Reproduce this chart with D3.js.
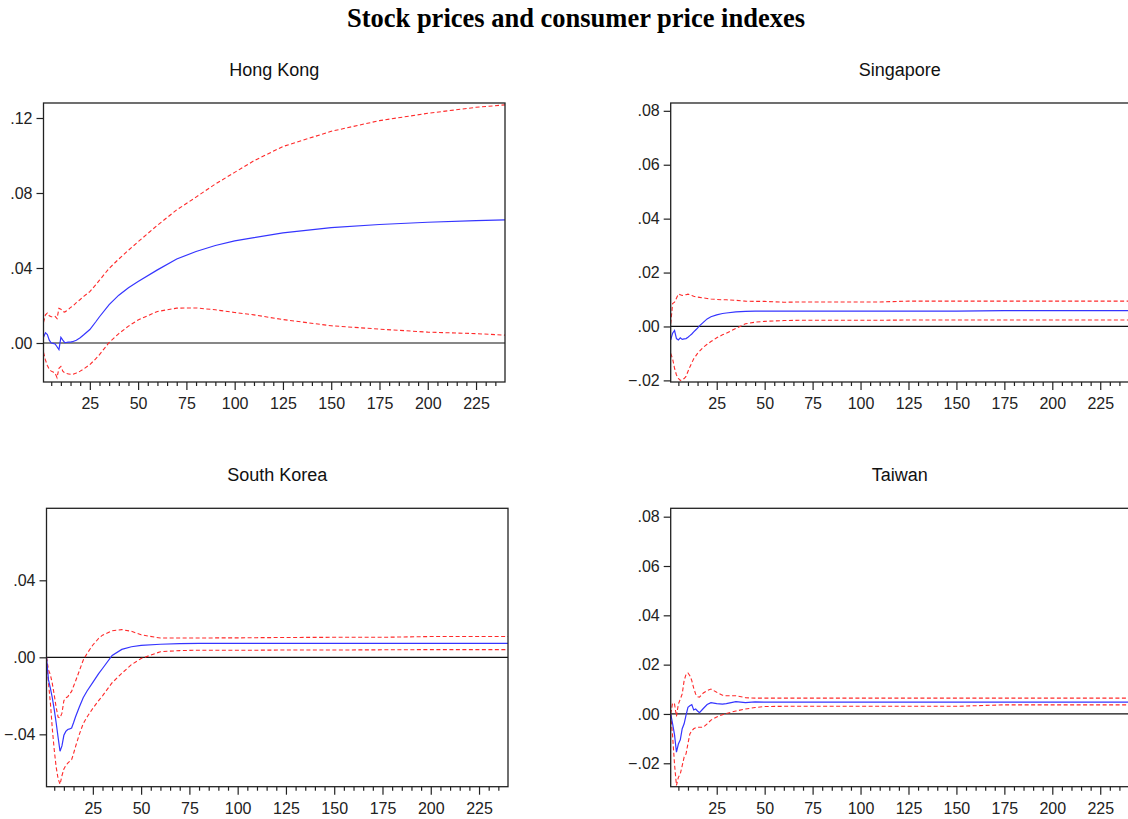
<!DOCTYPE html>
<html>
<head>
<meta charset="utf-8">
<script src="https://cdn.jsdelivr.net/npm/d3@7"></script>
<style>
  body { margin: 0; background: #fff; }
  svg { display: block; }
  .tick text { font-family: "Liberation Sans", Arial, sans-serif; font-size: 16px; fill: #222; }
  .tick line { stroke: #222; stroke-width: 1.2; }
</style>
</head>
<body>
<svg id="chart" width="1128" height="819"></svg>
<script>
const periods = [1,2,3,4,5,6,7,8,9,10,11,12,13,14,15,16,18,20,22,25,28,30,35,40,45,50,60,70,80,90,100,110,125,150,175,200,225,240];

const hongKongResponse = [0.003,0.0055,0.0045,0.0015,0.0,-0.0002,-0.0005,-0.002,-0.0035,0.003,0.0015,0.0002,0.0003,0.0005,0.0005,0.0007,0.0015,0.0028,0.0045,0.0072,0.0112,0.014,0.0205,0.0255,0.0295,0.0328,0.039,0.0448,0.0488,0.052,0.0545,0.0562,0.0587,0.0615,0.0632,0.0644,0.0653,0.0657];
const hongKongUpper = [0.011,0.015,0.016,0.0145,0.014,0.014,0.0142,0.013,0.0185,0.018,0.0168,0.0165,0.0172,0.018,0.019,0.0195,0.0215,0.0232,0.025,0.0274,0.031,0.0335,0.0398,0.0448,0.0495,0.054,0.0628,0.071,0.0778,0.0848,0.091,0.0972,0.1048,0.1129,0.1186,0.1225,0.1257,0.127];
const hongKongLower = [-0.005,-0.009,-0.012,-0.014,-0.015,-0.0155,-0.016,-0.0185,-0.0135,-0.0125,-0.015,-0.016,-0.0163,-0.0165,-0.0167,-0.0168,-0.016,-0.015,-0.0137,-0.0115,-0.0085,-0.0062,0.0003,0.005,0.009,0.0123,0.0168,0.0186,0.0187,0.0177,0.0163,0.015,0.0125,0.0092,0.0074,0.0058,0.005,0.0042];

const singaporeResponse = [-0.005,-0.0025,-0.0015,-0.0045,-0.005,-0.0042,-0.0048,-0.0046,-0.0045,-0.004,-0.0034,-0.0028,-0.002,-0.0013,-0.0006,0.0002,0.0015,0.0028,0.0036,0.0043,0.0048,0.005,0.0054,0.0056,0.0057,0.0057,0.0057,0.0057,0.0057,0.0057,0.0057,0.0057,0.0057,0.0057,0.0059,0.0059,0.0059,0.0059];
const singaporeUpper = [0.001,0.0085,0.009,0.0105,0.012,0.0118,0.0115,0.0117,0.0118,0.012,0.0118,0.0115,0.0112,0.011,0.0109,0.0108,0.0106,0.0104,0.0102,0.01,0.0099,0.0099,0.0097,0.0094,0.0093,0.0093,0.009,0.0091,0.0091,0.0091,0.0091,0.0091,0.0094,0.0094,0.0094,0.0094,0.0094,0.0094];
const singaporeLower = [-0.01,-0.012,-0.0155,-0.018,-0.0193,-0.02,-0.0198,-0.0193,-0.0185,-0.0167,-0.015,-0.0135,-0.012,-0.011,-0.01,-0.0092,-0.0077,-0.0066,-0.0056,-0.0042,-0.0031,-0.0025,-0.0007,0.001,0.0016,0.0019,0.0022,0.0023,0.0023,0.0023,0.0023,0.0023,0.0024,0.0024,0.0024,0.0024,0.0024,0.0024];

const koreaResponse = [0.0,-0.0116,-0.016,-0.021,-0.027,-0.034,-0.0415,-0.0488,-0.046,-0.0405,-0.0385,-0.0375,-0.0372,-0.0367,-0.034,-0.031,-0.0258,-0.021,-0.0175,-0.013,-0.0085,-0.0058,0.001,0.0041,0.0055,0.0062,0.0068,0.0071,0.0072,0.0072,0.0072,0.0072,0.0072,0.0072,0.0072,0.0072,0.0072,0.0072];
const koreaUpper = [0.0,-0.0064,-0.009,-0.0135,-0.0195,-0.026,-0.031,-0.0315,-0.029,-0.0225,-0.021,-0.0205,-0.019,-0.0177,-0.015,-0.0125,-0.007,-0.0015,0.002,0.0064,0.0098,0.0115,0.0138,0.0144,0.0135,0.0117,0.01,0.01,0.01,0.0101,0.0101,0.0102,0.0103,0.0104,0.0104,0.0108,0.0108,0.0108];
const koreaLower = [0.0,-0.013,-0.0235,-0.037,-0.048,-0.057,-0.063,-0.066,-0.0615,-0.058,-0.0562,-0.055,-0.054,-0.0532,-0.05,-0.0465,-0.04,-0.0345,-0.031,-0.0265,-0.0225,-0.02,-0.0132,-0.0083,-0.0038,-0.0006,0.0029,0.0035,0.0037,0.0037,0.0037,0.0037,0.0038,0.0038,0.0039,0.004,0.004,0.004];

const taiwanResponse = [0.0,-0.004,-0.0085,-0.0155,-0.0122,-0.0105,-0.006,-0.004,-0.0005,0.0027,0.0033,0.0038,0.0016,0.002,0.0012,0.0005,0.0022,0.0038,0.0046,0.0042,0.004,0.0042,0.005,0.0046,0.0049,0.0048,0.0048,0.0048,0.0048,0.0048,0.0048,0.0048,0.0048,0.0048,0.0048,0.0048,0.0048,0.0048];
const taiwanUpper = [0.0,0.0045,0.004,-0.001,0.004,0.006,0.0081,0.0135,0.016,0.0166,0.0155,0.0135,0.0105,0.0081,0.007,0.0068,0.0085,0.0095,0.0101,0.0088,0.0076,0.0074,0.0074,0.0066,0.0064,0.0064,0.0064,0.0064,0.0064,0.0064,0.0064,0.0064,0.0064,0.0064,0.0064,0.0064,0.0064,0.0064];
const taiwanLower = [0.0,-0.009,-0.0205,-0.029,-0.0257,-0.0243,-0.021,-0.0175,-0.0162,-0.012,-0.0081,-0.0068,-0.006,-0.0056,-0.0054,-0.0054,-0.0054,-0.004,-0.0025,-0.0012,-0.0003,0.0002,0.0012,0.002,0.0026,0.003,0.0031,0.0031,0.0031,0.0031,0.0031,0.0031,0.0031,0.0031,0.0037,0.0037,0.0037,0.0037];

const xMajorTicks = [25,50,75,100,125,150,175,200,225];
const hongKongTicks = [0, 0.04, 0.08, 0.12];
const singaporeTicks = [-0.02, 0, 0.02, 0.04, 0.06, 0.08];
const koreaTicks = [-0.04, 0, 0.04];
const taiwanTicks = [-0.02, 0, 0.02, 0.04, 0.06, 0.08];

const chartTitle = "Stock prices and consumer price indexes";

class ResponsePanel {

    constructor(svg, frame) {
        this.svg = svg;
        this.left = frame.left;
        this.top = frame.top;
        this.width = frame.right - frame.left;
        this.height = frame.bottom - frame.top;
    }

    draw(title, yDomain, yTicks, response, upper, lower) {
        this.xScale = d3.scaleLinear()
            .domain([1, 240])
            .range([0, this.width]);

        this.yScale = d3.scaleLinear()
            .domain(yDomain)
            .range([this.height, 0]);

        this.g = this.svg.append("g")
            .attr("transform", "translate(" + this.left + "," + this.top + ")");

        // panel title
        this.g.append("text")
            .attr("x", this.width / 2)
            .attr("y", -27)
            .attr("text-anchor", "middle")
            .style("font-family", "Liberation Sans, Arial, sans-serif")
            .style("font-size", "18px")
            .style("fill", "#111")
            .text(title);

        // axes
        const fmt = d3.format(".2f");
        this.g.append("g")
            .call(d3.axisLeft(this.yScale)
                .tickValues(yTicks)
                .tickSize(7)
                .tickPadding(4)
                .tickFormat(d => fmt(d).replace("0.", ".")))
            .call(g => g.select(".domain").remove());

        const minorTicks = d3.range(5, 240, 5).filter(d => d % 25 !== 0);
        this.g.append("g")
            .attr("transform", "translate(0," + this.height + ")")
            .call(d3.axisBottom(this.xScale).tickValues(minorTicks).tickSize(4).tickFormat(""))
            .call(g => g.select(".domain").remove());

        this.g.append("g")
            .attr("transform", "translate(0," + this.height + ")")
            .call(d3.axisBottom(this.xScale).tickValues(xMajorTicks).tickSize(8).tickPadding(8))
            .call(g => g.select(".domain").remove());

        // zero line
        this.g.append("line")
            .attr("x1", 0)
            .attr("x2", this.width)
            .attr("y1", this.yScale(0))
            .attr("y2", this.yScale(0))
            .attr("stroke", "#111")
            .attr("stroke-width", 1.2);

        const line = d3.line()
            .x(d => this.xScale(d.p))
            .y(d => this.yScale(d.v));
        const toPoints = values => periods.map((p, i) => ({p: p, v: values[i]}));

        this.g.append("path")
            .datum(toPoints(upper))
            .attr("d", line)
            .attr("fill", "none")
            .attr("stroke", "#ff2a2a")
            .attr("stroke-width", 1.1)
            .attr("stroke-dasharray", "4,2.5");

        this.g.append("path")
            .datum(toPoints(lower))
            .attr("d", line)
            .attr("fill", "none")
            .attr("stroke", "#ff2a2a")
            .attr("stroke-width", 1.1)
            .attr("stroke-dasharray", "4,2.5");

        this.g.append("path")
            .datum(toPoints(response))
            .attr("d", line)
            .attr("fill", "none")
            .attr("stroke", "#3535ff")
            .attr("stroke-width", 1.2);

        // frame
        this.g.append("rect")
            .attr("width", this.width)
            .attr("height", this.height)
            .attr("fill", "none")
            .attr("stroke", "#222")
            .attr("stroke-width", 1.3);
    }
}

const svg = d3.select("#chart");

svg.append("text")
    .attr("x", 576)
    .attr("y", 27)
    .attr("text-anchor", "middle")
    .style("font-family", "Liberation Serif, Times New Roman, serif")
    .style("font-weight", "bold")
    .style("font-size", "26.5px")
    .text(chartTitle);

new ResponsePanel(svg, {left: 43.5, right: 505, top: 103, bottom: 382})
    .draw("Hong Kong", [-0.0208, 0.128], hongKongTicks, hongKongResponse, hongKongUpper, hongKongLower);
new ResponsePanel(svg, {left: 670.7, right: 1129, top: 103, bottom: 382})
    .draw("Singapore", [-0.0206, 0.0829], singaporeTicks, singaporeResponse, singaporeUpper, singaporeLower);
new ResponsePanel(svg, {left: 46.5, right: 508, top: 508.3, bottom: 786.7})
    .draw("South Korea", [-0.0672, 0.0774], koreaTicks, koreaResponse, koreaUpper, koreaLower);
new ResponsePanel(svg, {left: 670.7, right: 1129, top: 508.3, bottom: 786.7})
    .draw("Taiwan", [-0.0295, 0.0834], taiwanTicks, taiwanResponse, taiwanUpper, taiwanLower);
</script>
</body>
</html>
